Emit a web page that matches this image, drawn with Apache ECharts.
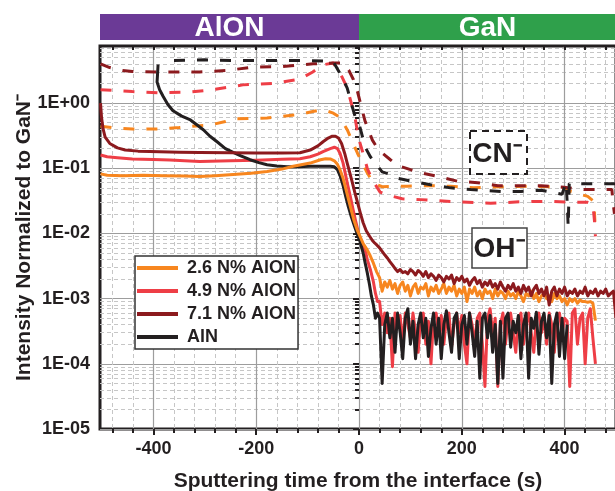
<!DOCTYPE html>
<html>
<head>
<meta charset="utf-8">
<script src="https://cdn.jsdelivr.net/npm/echarts@6/dist/echarts.min.js"></script>
<style>html,body{margin:0;padding:0;background:#fff}#main{width:615px;height:491px}</style>
</head>
<body>
<div id="main"></div>
<script>
var myChart = echarts.init(document.getElementById('main'));

// ---- data ----
var samples = ['2.6 N% AlON', '4.9 N% AlON', '7.1 N% AlON', 'AlN'];
var layers = [{ name: 'AlON', from: -504, to: 0 }, { name: 'GaN', from: 0, to: 500 }];

var xRange = [-504, 500];
var yRange = [1e-5, 7.5];
var xMajor = [-400, -200, 0, 200, 400];
var xMinor = [-480, -440, -360, -320, -280, -240, -160, -120, -80, -40, 40, 80, 120, 160, 240, 280, 320, 360, 440, 480];
var yMajor = [1e-5, 1e-4, 1e-3, 1e-2, 1e-1, 1];
var yTickLabels = ['1E-05', '1E-04', '1E-03', '1E-02', '1E-01', '1E+00'];

// CN- (dashed), [time s, intensity]
var cnAlON26 = [[-503,0.44],[-470,0.41],[-441,0.40],[-388,0.40],[-350,0.42],[-310,0.45],[-290,0.46],[-260,0.52],[-245,0.57],[-179,0.59],[-121,0.66],[-90,0.74],[-70,0.79],[-50,0.7],[-37,0.6],[-23,0.39],[-3,0.17],[16,0.085],[28,0.059],[45,0.052],[94,0.053],[133,0.054],[178,0.053],[223,0.05],[276,0.052],[328,0.053],[373,0.052],[400,0.05],[412,0.044],[430,0.04],[445,0.037],[457,0.031],[459,0.015]];
var cnAlON49 = [[-503,1.6],[-470,1.55],[-441,1.5],[-388,1.44],[-330,1.47],[-290,1.58],[-226,1.9],[-167,2.0],[-115,2.33],[-90,3.0],[-70,3.87],[-50,4.1],[-33,2.5],[-23,1.7],[-13,0.87],[-7,0.55],[-1,0.29],[6,0.19],[16,0.1],[26,0.066],[41,0.043],[55,0.039],[84,0.034],[120,0.033],[178,0.031],[256,0.029],[328,0.031],[373,0.031],[412,0.03],[445,0.03],[455,0.028],[458,0.016],[460,0.009]];
var cnAlON71 = [[-503,4.0],[-485,3.5],[-460,3.15],[-441,3.05],[-394,3.0],[-340,3.0],[-310,3.0],[-257,3.16],[-206,3.57],[-148,3.64],[-89,4.0],[-50,4.1],[-31,4.1],[-20,3.2],[-11,2.3],[-3,1.5],[6,0.79],[12,0.52],[26,0.27],[38,0.19],[61,0.135],[75,0.11],[100,0.095],[120,0.085],[153,0.075],[192,0.063],[231,0.06],[270,0.054],[354,0.054],[399,0.051],[438,0.047],[477,0.047],[492,0.047],[494,0.031],[497,0.02]];
var cnAlN = [[-360,4.5],[-300,4.6],[-250,4.5],[-200,4.5],[-150,4.5],[-100,4.5],[-70,4.4],[-50,4.3],[-33,2.5],[-23,1.7],[-13,0.87],[-7,0.6],[2,0.42],[12,0.21],[22,0.15],[45,0.088],[61,0.08],[75,0.07],[100,0.064],[139,0.056],[178,0.05],[217,0.047],[276,0.044],[315,0.044],[354,0.046],[375,0.043],[395,0.04],[403,0.06],[405,0.03],[407,0.0127],[409,0.058],[440,0.058],[486,0.058],[500,0.058]];

// OH- (solid): smooth part as [time, intensity], noisy part every 5 s from 40 s
var tailStart = 40, tailStep = 5;
var ohAlON26Head = [[-503,0.082],[-490,0.078],[-460,0.077],[-420,0.078],[-380,0.077],[-340,0.076],[-310,0.075],[-280,0.077],[-245,0.08],[-210,0.084],[-179,0.089],[-150,0.097],[-128,0.107],[-95,0.12],[-75,0.135],[-65,0.14],[-55,0.138],[-48,0.13],[-42,0.115],[-37,0.095],[-31,0.07],[-27,0.053],[-22,0.037],[-17,0.026],[-10,0.016],[-3,0.011],[2,0.009],[8,0.007],[16,0.0056],[22,0.0045],[28,0.0035],[34,0.0026]];
var ohAlON26Tail = [0.0021,0.0013,0.0018,0.0015,0.0019,0.0014,0.0017,0.0012,0.0016,0.0018,
  0.0013,0.0016,0.0011,0.0015,0.0017,0.0012,0.0015,0.0014,0.0017,0.0011,
  0.0015,0.0013,0.0016,0.0012,0.0014,0.0017,0.0012,0.0015,0.0013,0.0016,
  0.0011,0.0014,0.0012,0.0015,0.0009,0.0014,0.0012,0.0015,0.0011,0.0013,
  0.0010,0.0014,0.0012,0.0013,0.0010,0.0014,0.0011,0.0013,0.0012,0.0010,
  0.0013,0.0011,0.0012,0.0010,0.0013,0.0011,0.0009,0.0012,0.0011,0.0013,
  0.0010,0.0012,0.0009,0.0011,0.0012,0.0010,0.0011,0.0009,0.0012,0.0010,
  0.0011,0.0009,0.0010,0.0008,0.0010,0.0009,0.0010,0.00085,0.00095,0.0009,
  0.0009,0.00088,0.0009,0.00085,0.00046];

var ohAlON49Head = [[-503,0.16],[-490,0.15],[-470,0.145],[-441,0.138],[-400,0.136],[-368,0.134],[-310,0.127],[-250,0.13],[-200,0.133],[-150,0.137],[-115,0.14],[-95,0.15],[-80,0.165],[-70,0.18],[-56,0.2],[-48,0.21],[-42,0.2],[-37,0.17],[-31,0.12],[-27,0.085],[-22,0.055],[-17,0.037],[-12,0.024],[-7,0.016],[-2,0.011],[2,0.008],[8,0.006],[12,0.0056],[16,0.004],[22,0.0028],[28,0.0018],[32,0.0012],[36,0.0009]];
var ohAlON49Tail = [0.0009,0.0004,0.0006,0.0003,0.0005,0.00009,0.0006,0.0004,0.00055,0.0002,
  0.0006,0.0004,0.00025,0.0006,0.0003,0.00015,0.0005,0.0006,0.0002,0.00045,
  0.0001,0.0005,0.0006,0.0003,0.00055,0.0002,0.0005,0.0006,0.00018,0.0004,
  0.0006,0.0003,0.00055,0.0002,0.0001,0.0006,0.0004,0.0002,0.0005,0.0006,
  0.0002,0.000045,0.0005,0.0007,0.0003,0.0005,0.000045,0.0004,0.0006,0.0002,
  0.0005,0.0006,0.0003,0.00015,0.0005,0.0006,0.0002,0.0004,0.0006,0.0003,
  0.00015,0.0005,0.0006,0.0003,0.0005,0.0002,0.0006,0.0004,0.00015,0.0005,
  0.0006,0.0003,0.0005,0.00045,0.000045,0.0006,0.0007,0.0002,0.0005,0.0006,
  0.0001,0.0005,0.0007,0.00025,0.0001];

var ohAlON71Head = [[-503,1.0],[-501,0.6],[-498,0.4],[-494,0.3],[-485,0.24],[-470,0.205],[-455,0.19],[-430,0.183],[-407,0.18],[-350,0.176],[-310,0.175],[-250,0.173],[-200,0.172],[-150,0.172],[-115,0.173],[-95,0.19],[-80,0.22],[-70,0.255],[-60,0.29],[-52,0.31],[-46,0.31],[-40,0.29],[-34,0.24],[-28,0.17],[-23,0.12],[-17,0.08],[-13,0.06],[-8,0.042],[-3,0.03],[3,0.02],[8,0.0146],[14,0.011],[20,0.0092],[26,0.0078],[30,0.0072],[35,0.0066]];
var ohAlON71Tail = [0.006,0.0053,0.0047,0.0042,0.0037,0.0033,0.0029,0.0026,0.0028,0.0025,
  0.0026,0.0024,0.0028,0.0026,0.0023,0.0027,0.0025,0.0022,0.0026,0.0021,
  0.0024,0.0022,0.0019,0.0023,0.0021,0.0018,0.0022,0.0020,0.0023,0.0017,
  0.0021,0.0019,0.0022,0.0018,0.0020,0.0016,0.0019,0.0021,0.0017,0.0019,
  0.0015,0.0018,0.0016,0.0019,0.0015,0.0017,0.0014,0.0018,0.0015,0.0013,
  0.0016,0.0014,0.0017,0.0013,0.0015,0.0012,0.0016,0.0013,0.0015,0.0011,
  0.0014,0.0016,0.0012,0.0014,0.0011,0.0015,0.0008,0.0013,0.0015,0.0011,
  0.0014,0.0012,0.0015,0.0011,0.0013,0.0012,0.0014,0.0011,0.0013,0.0012,
  0.0015,0.0011,0.0013,0.0012,0.0014,0.0011,0.0013,0.0012,0.0014,0.0011,
  0.0012,0.0013,0.0005];

var ohAlNHead = [[-391,3.9],[-392,2.8],[-393,2.1],[-388,1.6],[-381,1.26],[-372,0.95],[-362,0.76],[-345,0.63],[-328,0.55],[-315,0.46],[-303,0.39],[-290,0.31],[-275,0.25],[-260,0.2],[-245,0.175],[-230,0.155],[-212,0.135],[-195,0.122],[-179,0.113],[-160,0.108],[-140,0.105],[-120,0.105],[-95,0.107],[-70,0.107],[-56,0.107],[-48,0.105],[-42,0.095],[-37,0.077],[-31,0.054],[-26,0.037],[-21,0.026],[-15,0.018],[-9,0.013],[-3,0.0095],[2,0.0075],[8,0.005],[12,0.0035],[16,0.0025],[20,0.0017],[24,0.0011],[28,0.0008],[32,0.0005],[36,0.0006]];
var ohAlNTail = [0.0005,0.00005,0.0004,0.0006,0.00025,0.0005,0.00015,0.0006,0.0003,0.00012,
  0.0005,0.0007,0.0002,0.00045,0.00012,0.0004,0.0006,0.00025,0.0005,0.00013,
  0.00035,0.0006,0.0002,0.0005,0.00012,0.0004,0.00065,0.0003,0.00015,0.0005,
  0.0006,0.00012,0.0004,0.00055,0.0002,0.0006,0.0003,0.00013,0.00045,0.00006,
  0.0005,0.0006,0.00025,0.00055,0.00015,0.0004,0.00005,0.00045,0.00006,0.0005,
  0.0006,0.00018,0.00045,0.0003,0.00055,0.00012,0.0004,0.0006,0.00006,0.0005,
  0.00035,0.00062,0.00014,0.00045,0.0006,0.00025,0.00055,0.00005,0.0004,0.0006,
  0.00013,0.0005,0.00012,0.0004];

// ---- styling ----
var ink = '#231F20';
var font = "'Liberation Sans', Arial, Helvetica, sans-serif";
var sampleColors = ['#F7861F', '#EE3E46', '#8C1A1E', '#231F20'];
var layerColors = ['#6B3A96', '#2FA04B'];

function withTail(head, tail) {
    var out = head.slice();
    tail.forEach(function (v, i) { out.push([tailStart + i * tailStep, v]); });
    return out;
}

var yMinor = [];
yMajor.forEach(function (d) {
    for (var m = 2; m <= 9; m++) {
        var v = +(m * d).toPrecision(2);
        if (v < yRange[1]) yMinor.push(v);
    }
});

var cnData = [cnAlON26, cnAlON49, cnAlON71, cnAlN];
var ohData = [
    withTail(ohAlON26Head, ohAlON26Tail),
    withTail(ohAlON49Head, ohAlON49Tail),
    withTail(ohAlON71Head, ohAlON71Tail),
    withTail(ohAlNHead, ohAlNTail)
];

var series = [];
cnData.forEach(function (d, i) {
    series.push({
        name: samples[i] + ' CN',
        type: 'line',
        data: d,
        showSymbol: false,
        symbol: 'none',
        color: sampleColors[i],
        lineStyle: { width: 3, type: [11, 12], color: sampleColors[i] },
        z: 3
    });
});
// draw order of solid curves: red, black, orange, dark red
[1, 3, 0, 2].forEach(function (i) {
    series.push({
        name: samples[i],
        type: 'line',
        data: ohData[i],
        showSymbol: false,
        symbol: 'none',
        color: sampleColors[i],
        lineStyle: { width: 3, color: sampleColors[i], join: 'round' },
        z: 4
    });
});
// material bar on top
series.push({
    type: 'custom',
    xAxisIndex: 3,
    yAxisIndex: 2,
    silent: true,
    data: layers.map(function (l, i) { return [l.from, l.to, i]; }),
    renderItem: function (params, api) {
        var p0 = api.coord([api.value(0), 1]);
        var p1 = api.coord([api.value(1), 0]);
        var i = api.value(2);
        return {
            type: 'group',
            children: [
                { type: 'rect', shape: { x: p0[0], y: p0[1], width: p1[0] - p0[0], height: p1[1] - p0[1] }, style: { fill: layerColors[i] } },
                { type: 'text', x: (p0[0] + p1[0]) / 2, y: (p0[1] + p1[1]) / 2 + 1, style: { text: layers[i].name, fill: '#fff', font: 'bold 28px ' + font, align: 'center', verticalAlign: 'middle' } }
            ]
        };
    }
});

var tickStyle = { color: ink, width: 2 };

var option = {
    animation: false,
    backgroundColor: '#fff',
    grid: [
        { left: 100, top: 46, width: 516, height: 383, outerBoundsMode: 'none', containLabel: false, show: true, borderColor: ink, borderWidth: 3, backgroundColor: 'transparent' },
        { left: 100, top: 14, width: 516, height: 26, outerBoundsMode: 'none', containLabel: false }
    ],
    legend: {
        data: samples.map(function (s) { return { name: s, icon: 'rect' }; }),
        orient: 'vertical',
        left: 135,
        top: 256,
        itemWidth: 41,
        itemHeight: 4,
        itemGap: 3,
        padding: [2, 2, 2, 2],
        backgroundColor: '#fff',
        borderColor: '#333',
        borderWidth: 1.5,
        selectedMode: false,
        textStyle: { color: ink, fontSize: 18, fontWeight: 'bold', fontFamily: font, lineHeight: 20, padding: [0, 0, 0, 4] }
    },
    xAxis: [
        {
            type: 'value', gridIndex: 0, min: xRange[0], max: xRange[1], position: 'bottom',
            axisLine: { show: false },
            axisTick: { customValues: xMajor, length: 6, lineStyle: tickStyle },
            axisLabel: { customValues: xMajor, margin: 11, color: ink, fontSize: 18, fontWeight: 'bold', fontFamily: font },
            splitLine: { show: true, lineStyle: { color: '#9d9d9d', width: 1.2 } },
            name: 'Sputtering time from the interface (s)',
            nameLocation: 'middle',
            nameGap: 42,
            nameMoveOverlap: false,
            nameTextStyle: { color: ink, fontSize: 21, fontWeight: 'bold', fontFamily: font }
        },
        {
            type: 'value', gridIndex: 0, min: xRange[0], max: xRange[1], position: 'bottom',
            axisLine: { show: false },
            axisTick: { customValues: xMinor, length: 4, lineStyle: tickStyle },
            axisLabel: { show: false },
            splitLine: { show: true, lineStyle: { color: '#c6c6c6', width: 1, type: [4, 3] } }
        },
        {
            type: 'value', gridIndex: 0, min: xRange[0], max: xRange[1], position: 'top',
            axisLine: { show: false },
            axisTick: { customValues: xMajor.concat(xMinor), inside: true, length: 4, lineStyle: tickStyle },
            axisLabel: { show: false },
            splitLine: { show: false }
        },
        { type: 'value', gridIndex: 1, min: xRange[0], max: xRange[1], show: false }
    ],
    yAxis: [
        {
            type: 'log', gridIndex: 0, min: yRange[0], max: yRange[1], position: 'left',
            axisLine: { show: false },
            axisTick: { customValues: yMajor, length: 6, lineStyle: tickStyle },
            axisLabel: {
                customValues: yMajor, margin: 10, color: ink, fontSize: 18, fontWeight: 'bold', fontFamily: font,
                formatter: function (v) { return yTickLabels[Math.round(Math.log10(v)) + 5]; }
            },
            splitLine: { show: true, lineStyle: { color: '#9d9d9d', width: 1.2 } },
            name: 'Intensity Normalized to GaN⁻',
            nameLocation: 'middle',
            nameGap: 65,
            nameMoveOverlap: false,
            nameTextStyle: { color: ink, fontSize: 21, fontWeight: 'bold', fontFamily: font }
        },
        {
            type: 'log', gridIndex: 0, min: yRange[0], max: yRange[1], position: 'left',
            axisLine: { show: false },
            axisTick: { customValues: yMinor, length: 4, lineStyle: tickStyle },
            axisLabel: { show: false },
            splitLine: { show: true, lineStyle: { color: '#c6c6c6', width: 1, type: [4, 3] } }
        },
        { type: 'value', gridIndex: 1, min: 0, max: 1, show: false }
    ],
    graphic: [
        { type: 'rect', shape: { x: 470, y: 131, width: 57, height: 43 }, style: { fill: '#fff', stroke: ink, lineWidth: 2, lineDash: [7, 5] }, z: 10 },
        { type: 'text', x: 497, y: 154, style: { text: 'CN⁻', fill: ink, font: 'bold 28px ' + font, align: 'center', verticalAlign: 'middle' }, z: 11 },
        { type: 'rect', shape: { x: 472, y: 228, width: 55, height: 40 }, style: { fill: '#fff', stroke: '#444', lineWidth: 1.5 }, z: 10 },
        { type: 'text', x: 499, y: 249, style: { text: 'OH⁻', fill: ink, font: 'bold 28px ' + font, align: 'center', verticalAlign: 'middle' }, z: 11 }
    ],
    series: series
};

myChart.setOption(option);
</script>
</body>
</html>
